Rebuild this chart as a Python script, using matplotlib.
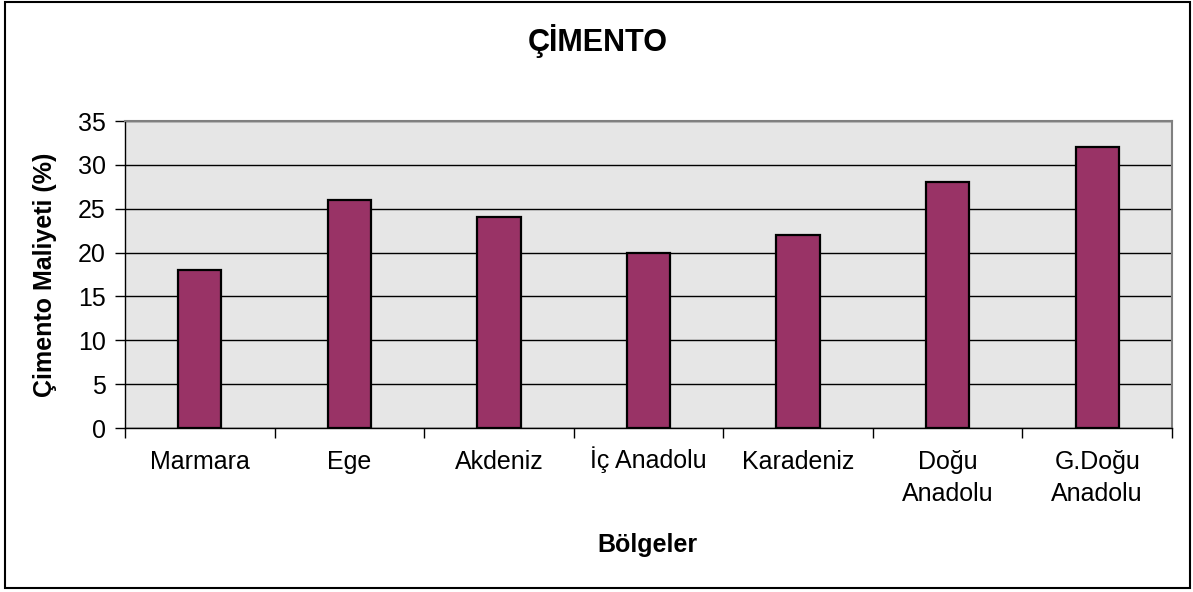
import matplotlib
matplotlib.use("Agg")
import matplotlib.pyplot as plt
from matplotlib.patches import Rectangle
from matplotlib.transforms import ScaledTranslation
import numpy as np

# data
regions = ["Marmara", "Ege", "Akdeniz", "İç Anadolu", "Karadeniz",
           "Doğu\nAnadolu", "G.Doğu\nAnadolu"]
cost_pct = [18, 26, 24, 20, 22, 28, 32]
y_ticks = [0, 5, 10, 15, 20, 25, 30, 35]

BAR = "#993366"
plt.rcParams["font.family"] = ["Liberation Sans", "DejaVu Sans"]

W, H = 1193, 592
fig = plt.figure(figsize=(W / 100, H / 100), dpi=100)
ax = fig.add_axes([125 / W, 1 - 428 / H, (1172 - 125) / W, (428 - 121) / H])
ax.set_facecolor("#e6e6e6")

x = np.arange(len(regions))
ax.bar(x, cost_pct, width=0.29, color=BAR, edgecolor="black", lw=1.6, zorder=3)

ax.set_xlim(-0.5, len(regions) - 0.5)
ax.set_ylim(0, 35)
ax.set_yticks(y_ticks)
ax.yaxis.grid(True, color="black", lw=1.0, zorder=1)
ax.set_axisbelow(True)

ax.set_xticks(x)
ax.set_xticklabels(regions, linespacing=1.4)
ax.set_xticks(np.arange(-0.5, len(regions)), minor=True)
ax.tick_params(axis="x", which="major", length=0, pad=16, labelsize=18)
ax.tick_params(axis="x", which="minor", length=7, width=1.0, color="black")
ax.tick_params(axis="y", length=7, width=1.0, pad=7, labelsize=18)

# the dotted capital I makes its label box taller; lift it back onto the baseline
lbl = ax.get_xticklabels()[3]
lbl.set_transform(lbl.get_transform() + ScaledTranslation(0, 3 / 72, fig.dpi_scale_trans))

for s in ("top", "right"):
    ax.spines[s].set_color("#808080")
    ax.spines[s].set_linewidth(1.5)
for s in ("left", "bottom"):
    ax.spines[s].set_color("black")
    ax.spines[s].set_linewidth(1.0)

fig.text(598 / W, 1 - 41 / H, "ÇİMENTO", ha="center", va="center",
         fontsize=22, fontweight="bold")
fig.text(45 / W, 1 - 275 / H, "Çimento Maliyeti (%)", ha="center", va="center",
         rotation=90, fontsize=18, fontweight="bold")
fig.text(647 / W, 1 - 545 / H, "Bölgeler", ha="center", va="center",
         fontsize=18, fontweight="bold")

# outer chart border
fig.patches.append(Rectangle((4.5 / W, 1 - 588 / H), (1190 - 4.5) / W, (588 - 1.5) / H,
                             transform=fig.transFigure, fill=False,
                             edgecolor="black", lw=1.5))

fig.savefig("out.png", dpi=100)
